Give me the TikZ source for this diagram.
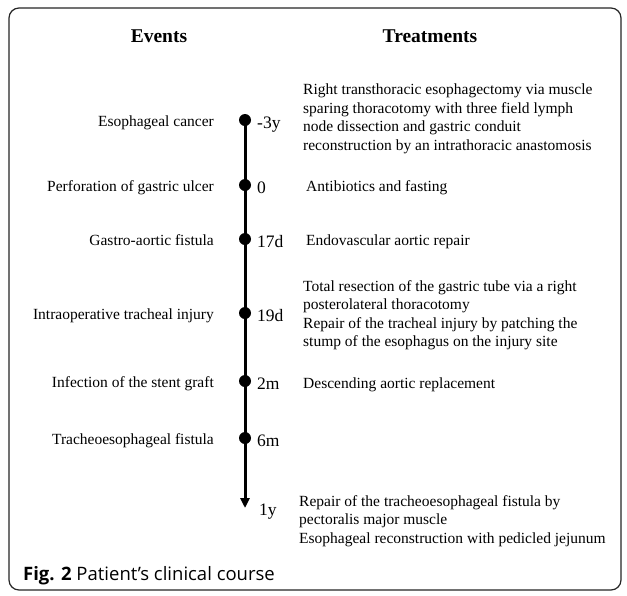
\documentclass[tikz,border=0pt]{standalone}
\usepackage{fontspec}
\setmainfont{Liberation Serif}
\newfontfamily\capfont{Open Sans}
\usetikzlibrary{arrows.meta}

\newcommand{\bodysize}{\fontsize{15.5}{18.5}\selectfont}
\newcommand{\timesize}{\fontsize{17.5}{20}\selectfont}
\newcommand{\headsize}{\fontsize{19.5}{22}\selectfont}

\tikzset{
    frame/.style={draw=black!85, line width=1.2pt, rounded corners=10pt},
    heading/.style={inner sep=0pt, font=\headsize\bfseries},
    eventlabel/.style={inner sep=0pt, anchor=base east, font=\bodysize},
    timelabel/.style={inner sep=0pt, anchor=base west, font=\timesize},
    treatment/.style={inner sep=0pt, anchor=west, align=left, font=\bodysize},
    dot/.style={circle, fill=black, inner sep=0pt, minimum size=12pt},
    timeline/.style={line width=3pt, -{Triangle[length=10pt,width=9pt]}}
}

\begin{document}
\begin{tikzpicture}[x=1pt, y=-1pt]
    % Fix the page size
    \path[fill=white, use as bounding box] (0,0) rectangle (627,595);

    % Draw the outer frame
    \draw[frame] (9,8) rectangle (621,590);

    % Column headings
    \node[heading] (events) at (159,36) {Events};
    \node[heading] (treatments) at (430,36) {Treatments};

    % Define the dots on the time axis, with event and time labels
    \foreach \i/\y/\ev/\tm in {1/120/Esophageal cancer/-3y,
                               2/185/Perforation of gastric ulcer/0,
                               3/239/Gastro-aortic fistula/17d,
                               4/313/Intraoperative tracheal injury/19d,
                               5/381/Infection of the stent graft/2m,
                               6/438/Tracheoesophageal fistula/6m} {
        \node[dot] (d\i) at (245,\y) {};
        \node[eventlabel] (ev\i) at (214,\y+6) {\ev};
        \node[timelabel] (tm\i) at (257,\y+8) {\tm};
    }

    % End of the time axis
    \coordinate (tend) at (245,508);
    \node[timelabel] (tm7) at (259,515) {1y};

    % Draw the time axis
    \draw[timeline] (d1.center) -- (tend);

    % Treatments
    \node[treatment] (tr1) at (303,119) {Right transthoracic esophagectomy via muscle\\
        sparing thoracotomy with three field lymph\\
        node dissection and gastric conduit\\
        reconstruction by an intrathoracic anastomosis};
    \node[treatment, anchor=base west] (tr2) at (306,191) {Antibiotics and fasting};
    \node[treatment, anchor=base west] (tr3) at (306,245) {Endovascular aortic repair};
    \node[treatment] (tr4) at (303,315) {Total resection of the gastric tube via a right\\
        posterolateral thoracotomy\\
        Repair of the tracheal injury by patching the\\
        stump of the esophagus on the injury site};
    \node[treatment, anchor=base west] (tr5) at (303,388) {Descending aortic replacement};
    \node[treatment] (tr7) at (299,521) {Repair of the tracheoesophageal fistula by\\
        pectoralis major muscle\\
        Esophageal reconstruction with pedicled jejunum};

    % Caption
    \node[inner sep=0pt, anchor=base west, font=\capfont\fontsize{18.5}{21}\selectfont] (caption)
        at (23,580) {\textbf{Fig. 2} Patient’s clinical course};
\end{tikzpicture}
\end{document}
